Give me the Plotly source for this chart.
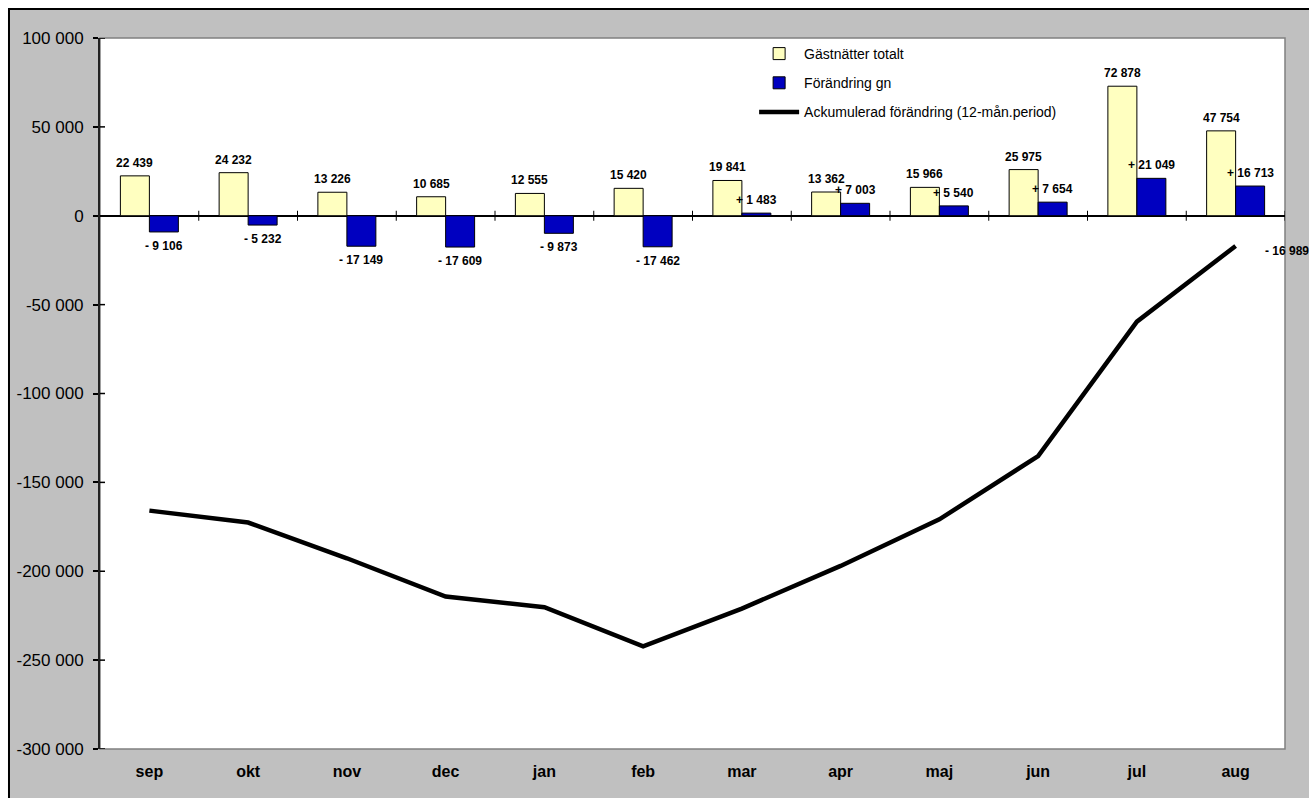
import plotly.graph_objects as go

# ---- data ----
months = ["sep", "okt", "nov", "dec", "jan", "feb", "mar", "apr", "maj", "jun", "jul", "aug"]
gastnatter = [22439, 24232, 13226, 10685, 12555, 15420, 19841, 13362, 15966, 25975, 72878, 47754]
forandring = [-9106, -5232, -17149, -17609, -9873, -17462, 1483, 7003, 5540, 7654, 21049, 16713]
ackumulerad = [-165900, -172600, -192700, -214200, -220200, -242300, -221000, -197000,
               -170800, -135200, -59600, -16989]
y_ticks = [100000, 50000, 0, -50000, -100000, -150000, -200000, -250000, -300000]

names = ["Gästnätter totalt", "Förändring gn", "Ackumulerad förändring (12-mån.period)"]

FONT = "Liberation Sans, Arial, sans-serif"


def sp(v):
    return f"{abs(v):,}".replace(",", " ")


def signed(v):
    return ("+ " if v > 0 else "- ") + sp(v)


fig = go.Figure()
fig.add_trace(go.Bar(
    x=months, y=gastnatter, name=names[0], legendgroup="g1",
    marker=dict(color="#FFFFC0", line=dict(color="black", width=1)),
))
fig.add_trace(go.Bar(
    x=months, y=forandring, name=names[1], legendgroup="g2",
    marker=dict(color="#0000C0", line=dict(color="black", width=1)),
))
fig.add_trace(go.Scatter(
    x=months, y=ackumulerad, name=names[2], legendgroup="g3", mode="lines",
    line=dict(color="black", width=4.5),
))

annotations = []
lab_font = dict(family=FONT, size=12, color="black", weight="bold")
for m, v in zip(months, gastnatter):
    annotations.append(dict(x=m, y=v, xref="x", yref="y", text=sp(v), showarrow=False,
                            xshift=-14.5, yshift=13, yanchor="middle", font=lab_font))
for m, v in zip(months, forandring):
    annotations.append(dict(x=m, y=v, xref="x", yref="y", text=signed(v), showarrow=False,
                            xshift=14.5, yshift=(13 if v > 0 else -14), yanchor="middle",
                            font=lab_font))
annotations.append(dict(x=months[-1], y=ackumulerad[-1], xref="x", yref="y",
                        text=signed(ackumulerad[-1]), showarrow=False, xanchor="left",
                        xshift=27, yshift=-5, yanchor="middle", font=lab_font))

shapes = []
# chart area: gray fill with black outer border
shapes.append(dict(type="rect", xref="paper", yref="paper", x0=-0.0768, x1=1.2, y0=-0.3,
                   y1=1.0408, fillcolor="#C0C0C0", line=dict(color="black", width=2),
                   layer="below"))
# plot area: white with gray border
shapes.append(dict(type="rect", xref="paper", yref="paper", x0=0, x1=1, y0=0, y1=1,
                   fillcolor="white", line=dict(color="#808080", width=1.5), layer="below"))
# cross tick marks on zero line between categories
for i in range(len(months)):
    shapes.append(dict(type="line", xref="x", yref="y", ysizemode="pixel", yanchor=0,
                       x0=i + 0.5, x1=i + 0.5, y0=-5, y1=5,
                       line=dict(color="black", width=1)))
# cross tick marks on y axis (right side part)
for t in y_ticks:
    shapes.append(dict(type="line", xref="paper", yref="y", xsizemode="pixel", xanchor=0,
                       x0=0, x1=5, y0=t, y1=t, line=dict(color="black", width=1.5)))

fig.update_layout(
    width=1309, height=798,
    margin=dict(l=100, r=24, t=38, b=49, autoexpand=False),
    paper_bgcolor="white",
    plot_bgcolor="white",
    barmode="group",
    bargap=0.413,
    bargroupgap=0,
    font=dict(family=FONT, color="black"),
    showlegend=True,
    legend=dict(x=0.552, y=1.0, xanchor="left", yanchor="top",
                bgcolor="rgba(0,0,0,0)", font=dict(family=FONT, size=14, color="black"),
                tracegroupgap=8, itemwidth=40),
    annotations=annotations,
    shapes=shapes,
    xaxis=dict(range=[-0.5, len(months) - 0.5], autorange=False,
               showgrid=False, showline=False, ticks="", zeroline=False, automargin=False,
               tickfont=dict(family=FONT, size=16, color="black", weight="bold"),
               ticklabelstandoff=11),
    yaxis=dict(range=[-300000, 100000], tickvals=y_ticks, automargin=False,
               ticktext=[f"{v:,}".replace(",", " ") for v in y_ticks],
               showgrid=False, showline=True, linecolor="#222222", linewidth=2,
               ticks="outside", ticklen=5, tickwidth=1.5, tickcolor="black",
               zeroline=True, zerolinecolor="black", zerolinewidth=1.5,
               tickfont=dict(family=FONT, size=17, color="black"),
               ticklabelstandoff=6),
)

fig.write_html("out.html",
               config={"displayModeBar": False},
               post_script="document.body.style.margin='0';document.body.style.overflow='hidden';")
